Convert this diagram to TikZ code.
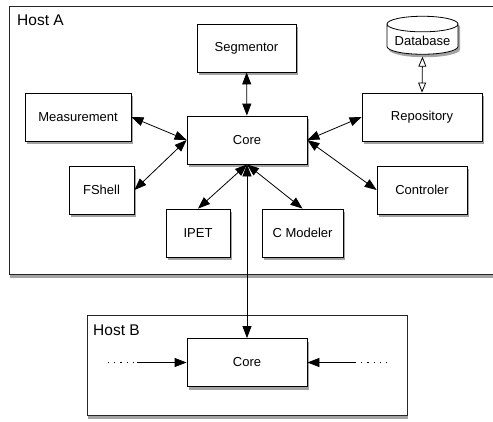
\documentclass[tikz,border=0pt]{standalone}
\usepackage{fontspec}
\setmainfont{Liberation Sans}
\usetikzlibrary{arrows.meta,shadows,shapes.geometric}
\tikzset{
  comp/.style={draw, thick, fill=white, minimum height=48pt, font=\fontsize{13}{15}\selectfont,
    drop shadow={opacity=0.6, fill=black!60, shadow xshift=2pt, shadow yshift=-3pt}},
  host/.style={draw, line width=0.9pt, draw=black!85, fill=white,
    drop shadow={opacity=0.6, fill=black!60, shadow xshift=1pt, shadow yshift=-4pt}},
  hostlabel/.style={anchor=north west, inner sep=0pt, font=\fontsize{15.5}{17}\selectfont},
  link/.style={thick, {Triangle[length=12pt,width=9pt]}-{Triangle[length=12pt,width=9pt]}},
  feed/.style={thick, -{Triangle[length=12pt,width=9pt]}},
  dots/.style={thick, dash pattern=on 1.2pt off 5pt},
}
\begin{document}
\begin{tikzpicture}[x=1pt, y=-1pt]
  \useasboundingbox (0,0) rectangle (493,421);
  \clip (0,0) rectangle (493,421);
  % hosts
  \draw[host] (9,6) rectangle (500,274);
  \node[hostlabel] (hosta) at (17,15) {Host A};
  \draw[host] (87,315) rectangle (407,415);
  \node[hostlabel] (hostb) at (93,325) {Host B};
  % components of host A
  \node[comp, minimum width=120pt] (core) at (247,140) {Core};
  \node[comp, minimum width=99pt] (seg) at (246.5,48) {Segmentor};
  \node[comp, minimum width=106pt] (meas) at (78,117) {Measurement};
  \node[comp, minimum width=65pt] (fshell) at (101.5,190) {FShell};
  \node[comp, minimum width=64pt] (ipet) at (198,233) {IPET};
  \node[comp, minimum width=81pt] (cmod) at (302.5,233) {C Modeler};
  \node[comp, minimum width=90pt] (ctrl) at (422,190) {Controler};
  \node[comp, minimum width=120pt] (repo) at (422,117) {Repository};
  \node[draw, thick, fill=white, cylinder, shape border rotate=90, aspect=0.25,
    minimum width=71pt, minimum height=38pt, font=\fontsize{13}{15}\selectfont,
    drop shadow={opacity=0.6, fill=black!60, shadow xshift=2pt, shadow yshift=-3pt}] (db) at (422.5,41) {Database};
  % component of host B
  \node[comp, minimum width=120pt] (coreb) at (247,362.5) {Core};
  \coordinate (inl) at (137,362.5);
  \coordinate (inr) at (355,362.5);
  \coordinate (dotl) at (108,362.5);
  \coordinate (dotr) at (388,362.5);
  \begin{scope}[link]
    \draw (core) to (seg);
    \draw (core.west) to (meas.east);
    \draw (core.west) to (fshell.east);
    \draw (core.south) to (ipet.north);
    \draw (core.south) to (cmod.north);
    \draw (core.east) to (repo.west);
    \draw (core.east) to (ctrl.west);
    \draw (core.south) to (coreb.north);
    \draw[{Triangle[open,length=10pt,width=8pt]}-{Triangle[open,length=10pt,width=8pt]}] (db.bottom) ++(0,2) to (repo.north);
  \end{scope}
  \draw[feed] (inl) to (coreb.west);
  \draw[feed] (inr) to (coreb.east);
  \draw[dots] (dotl) to (inl);
  \draw[dots] (inr) to (dotr);
\end{tikzpicture}
\end{document}
